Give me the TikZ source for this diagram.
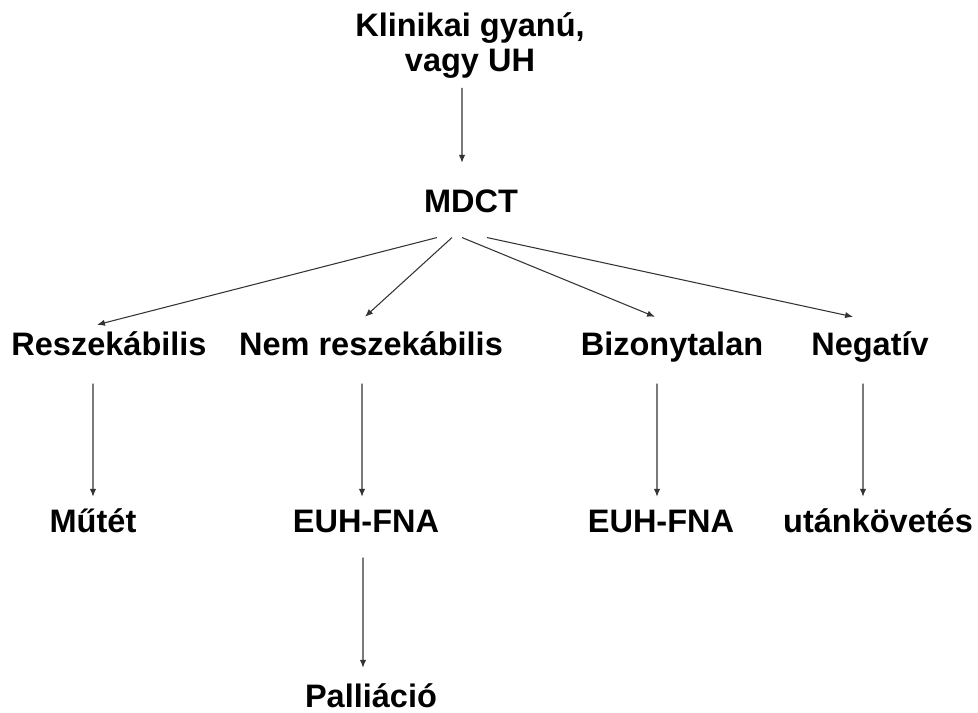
\documentclass[tikz,border=0pt]{standalone}
\usepackage{fontspec}
\setmainfont{Liberation Sans}
\usetikzlibrary{arrows.meta}

\begin{document}
\begin{tikzpicture}[x=0.02cm,y=-0.02cm,
        lbl/.style={font=\fontsize{18.5}{20}\selectfont\bfseries,inner sep=0pt,anchor=base,text height=13.3pt,text depth=4.1pt},
        arr/.style={draw=black!80,line width=0.6pt,-{Latex[length=4.5pt,width=3.6pt]}}]
                \useasboundingbox[fill=white] (0,0) rectangle (978,713);

                \node[font=\fontsize{18.5}{20}\selectfont\bfseries,inner sep=0pt,anchor=south,align=center] (klin) at (470,79) {Klinikai gyanú,\\vagy UH};
                \node[lbl] (mdct) at (471,213) {MDCT};

                \node[lbl] (resz) at (109,355) {Reszekábilis};
                \node[lbl] (nem) at (371,355) {Nem reszekábilis};
                \node[lbl] (biz) at (672,355) {Bizonytalan};
                \node[lbl] (neg) at (870,355) {Negatív};

                \node[lbl] (mutet) at (93,532) {Műtét};
                \node[lbl] (euh1) at (366,532) {EUH-FNA};
                \node[lbl] (euh2) at (661,532) {EUH-FNA};
                \node[lbl] (utan) at (878,532) {utánkövetés};

                \node[lbl] (pall) at (371,707) {Palliáció};

                \draw[arr,shorten <=0.18cm,shorten >=0.53cm] ([xshift=-0.16cm]klin.south) -- ([xshift=-0.18cm]mdct.north);

                \draw[arr] ([xshift=-0.68cm,yshift=-0.34cm]mdct.south) -- ([xshift=-0.24cm,yshift=0.13cm]resz.north);
                \draw[arr] ([xshift=-0.38cm,yshift=-0.34cm]mdct.south) -- ([xshift=-0.12cm,yshift=0.29cm]nem.north);
                \draw[arr] ([xshift=-0.18cm,yshift=-0.34cm]mdct.south) -- ([xshift=-0.34cm,yshift=0.29cm]biz.north);
                \draw[arr] ([xshift=0.32cm,yshift=-0.34cm]mdct.south) -- ([xshift=-0.34cm,yshift=0.29cm]neg.north);

                \draw[arr,shorten <=0.42cm,shorten >=0.23cm] ([xshift=-0.32cm]resz.south) -- (mutet.north);
                \draw[arr,shorten <=0.42cm,shorten >=0.23cm] ([xshift=-0.18cm]nem.south) -- ([xshift=-0.08cm]euh1.north);
                \draw[arr,shorten <=0.42cm,shorten >=0.23cm] ([xshift=-0.30cm]biz.south) -- ([xshift=-0.08cm]euh2.north);
                \draw[arr,shorten <=0.42cm,shorten >=0.23cm] ([xshift=-0.14cm]neg.south) -- ([xshift=-0.30cm]utan.north);

                \draw[arr,shorten <=0.36cm,shorten >=0.31cm] ([xshift=-0.06cm]euh1.south) -- ([xshift=-0.16cm]pall.north);
            \end{tikzpicture}
\end{document}
